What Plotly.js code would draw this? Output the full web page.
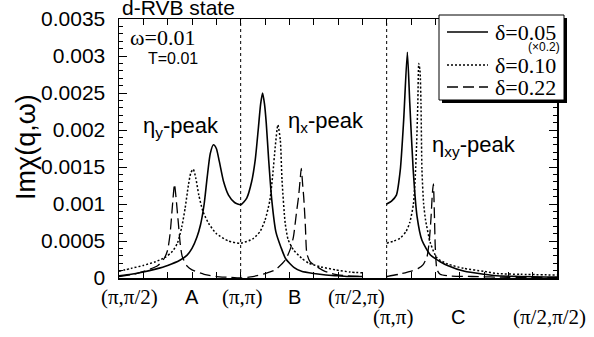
<!DOCTYPE html>
<html>
<head>
<meta charset="utf-8">
<script src="https://cdn.plot.ly/plotly-3.0.1.min.js"></script>
<style>html,body{margin:0;padding:0;background:#fff;}#chart{width:594px;height:337px;}</style>
</head>
<body>
<div id="chart"></div>
<script>
// ---- data (path coordinate u: (π,π/2)=0, (π,π)=5, (π/2,π)=10 | (π,π)=11, (π/2,π/2)=18) ----
const seriesNames = ['δ=0.05', 'δ=0.10', 'δ=0.22'];
const seriesNote = '(×0.2)';

const solidX = [0,0.5,1.0,1.5,2.0,2.5,2.8,3.0,3.2,3.35,3.5,3.62,3.75,3.88,4.0,4.12,4.3,4.5,4.75,5.0,5.25,5.45,5.6,5.72,5.82,5.9,5.98,6.05,6.15,6.28,6.45,6.65,6.85,7.2,7.5,8.0,8.5,9.0,9.5,10,
  null,
  11.0,11.2,11.4,11.56,11.7,11.85,11.95,12.09,12.25,12.45,12.8,13.2,13.5,14.2,15.0,15.5,16.5,18];
const solidY = [0.00003,0.00005,0.00008,0.00012,0.00017,0.00024,0.00031,0.00040,0.00055,0.00072,0.00100,0.00135,0.00168,0.00180,0.00175,0.00158,0.00130,0.00112,0.00102,0.00099,0.00108,0.00130,0.00160,0.00200,0.00235,0.00250,0.00235,0.00210,0.00160,0.00105,0.00062,0.00042,0.00026,0.00014,0.00009,0.00006,0.00004,0.00003,0.00002,0.00002,
  null,
  0.00100,0.00104,0.00112,0.00146,0.00214,0.00305,0.00236,0.00146,0.00083,0.00051,0.00031,0.00022,0.00017,0.00009,0.00005,0.00003,0.00002,0.00001];

const dotX = [0,0.5,1.0,1.5,1.9,2.2,2.4,2.58,2.72,2.85,2.95,3.05,3.15,3.28,3.45,3.68,4.0,4.5,5.0,5.5,5.8,6.0,6.2,6.32,6.42,6.53,6.63,6.7,6.83,6.95,7.17,7.5,7.8,8.3,8.9,9.5,10,
  null,
  11.0,11.3,11.56,11.8,11.95,12.1,12.18,12.23,12.28,12.32,12.37,12.41,12.45,12.52,12.6,12.8,13.07,13.5,14.17,15.0,15.54,16.5,18];
const dotY = [0.00009,0.00013,0.00017,0.00022,0.00028,0.00036,0.00047,0.00069,0.00095,0.00125,0.00142,0.00147,0.00136,0.00112,0.00090,0.00074,0.00060,0.00050,0.00047,0.00053,0.00063,0.00078,0.00105,0.00140,0.00177,0.00207,0.00186,0.00132,0.00074,0.00052,0.00038,0.00027,0.00020,0.00015,0.00011,0.00008,0.00007,
  null,
  0.00047,0.00050,0.00054,0.00063,0.00075,0.00100,0.00140,0.00180,0.00236,0.00290,0.00280,0.00236,0.00146,0.00100,0.00078,0.00047,0.00027,0.00019,0.00013,0.00009,0.00006,0.00005,0.00004];

const dashX = [0,0.6,1.2,1.6,1.85,2.0,2.1,2.17,2.24,2.28,2.34,2.44,2.52,2.6,2.8,3.0,3.5,4.0,4.5,5.0,5.5,6.0,6.42,6.83,7.05,7.17,7.3,7.38,7.45,7.49,7.55,7.59,7.66,7.72,7.85,8.0,8.4,8.75,9.3,10,
  null,
  11.0,11.5,11.98,12.3,12.5,12.66,12.75,12.82,12.88,12.92,12.96,13.0,13.07,13.2,13.5,14.5,16,18];
const dashY = [0.00002,0.00005,0.00011,0.00017,0.00026,0.00038,0.00060,0.00087,0.00115,0.00127,0.00110,0.00074,0.00045,0.00029,0.00016,0.00011,0.00005,0.00002,0.00001,0.00000,0.00002,0.00006,0.00011,0.00024,0.00040,0.00056,0.00090,0.00110,0.00135,0.00148,0.00125,0.00110,0.00070,0.00033,0.00022,0.00018,0.00010,0.00006,0.00003,0.00002,
  null,
  0.00002,0.00005,0.00009,0.00013,0.00018,0.00029,0.00050,0.00080,0.00115,0.00127,0.00088,0.00040,0.00011,0.00005,0.00003,0.00002,0.00001,0.00001];

const dividers = [5, 11];
const row1Labels = ['(π,π/2)', 'A', '(π,π)', 'B', '(π/2,π)'];
const row1Pos = [0.45, 3.0, 5.05, 7.2, 9.75];
const row2Labels = ['(π,π)', 'C', '(π/2,π/2)'];
const row2Pos = [11.28, 13.95, 17.7];
const row1Serif = [true, false, true, false, true];
const row2Serif = [true, false, true];
const yTickVals = [0, 0.0005, 0.001, 0.0015, 0.002, 0.0025, 0.003, 0.0035];
const yTickText = ['0', '0.0005', '0.001', '0.0015', '0.002', '0.0025', '0.003', '0.0035'];

// ---- styles ----
const SANS = 'Liberation Sans, Arial, Helvetica, sans-serif';
const SERIF = 'Liberation Serif, Times New Roman, serif';
const LW = 1.6;

const traces = [
  {x: solidX, y: solidY, name: seriesNames[0], mode: 'lines', connectgaps: false,
   line: {color: '#000', width: LW, shape: 'spline', smoothing: 0.6}},
  {x: dotX, y: dotY, name: seriesNames[1], mode: 'lines', connectgaps: false,
   line: {color: '#000', width: 1.5, dash: '2px,2px', shape: 'spline', smoothing: 0.6}},
  {x: dashX, y: dashY, name: seriesNames[2], mode: 'lines', connectgaps: false,
   line: {color: '#000', width: 1.3, dash: '11px,5px', shape: 'spline', smoothing: 0.6}}
];

// pixel helpers for plot-relative placement (plot area 119..557 x 19..278)
const PL = 119, PR = 557, PT = 19, PB = 278;
const px = v => (v - PL) / (PR - PL);
const py = v => (PB - v) / (PB - PT);

const shapes = [];
dividers.forEach(d => shapes.push({type: 'line', xref: 'x', yref: 'paper', x0: d, x1: d, y0: 0, y1: 1,
  line: {color: '#000', width: 1, dash: 'dot'}, layer: 'below'}));

// legend box with drop shadow
shapes.push({type: 'rect', xref: 'paper', yref: 'paper', x0: px(442), x1: px(567), y0: py(103), y1: py(18),
  fillcolor: '#000', line: {width: 0}, layer: 'above'});
shapes.push({type: 'rect', xref: 'paper', yref: 'paper', x0: px(439), x1: px(564), y0: py(100), y1: py(15),
  fillcolor: '#fff', line: {color: '#000', width: 1}, layer: 'above'});
const legRows = [32, 65, 87];
const legDash = ['solid', '2px,2px', '11px,5px'];
legRows.forEach((r, i) => shapes.push({type: 'line', xref: 'paper', yref: 'paper', x0: px(447), x1: px(488), y0: py(r), y1: py(r),
  line: {color: '#000', width: i === 0 ? LW : (i === 1 ? 1.5 : 1.3), dash: legDash[i]}, layer: 'above'}));

const annotations = [];
legRows.forEach((r, i) => annotations.push({xref: 'paper', yref: 'paper', x: px(558), y: py(r), xanchor: 'right', yanchor: 'middle',
  text: seriesNames[i], showarrow: false, font: {family: SERIF, size: 22, color: '#000'}}));
annotations.push({xref: 'paper', yref: 'paper', x: px(562), y: py(47), xanchor: 'right', yanchor: 'middle',
  text: seriesNote, showarrow: false, font: {family: SANS, size: 12, color: '#000'}});

annotations.push({xref: 'paper', yref: 'paper', x: px(128), y: py(38), xanchor: 'left', yanchor: 'middle',
  text: 'ω=0.01', showarrow: false, font: {family: SERIF, size: 22, color: '#000'}});
annotations.push({xref: 'paper', yref: 'paper', x: px(146), y: py(58), xanchor: 'left', yanchor: 'middle',
  text: 'T=0.01', showarrow: false, font: {family: SANS, size: 16, color: '#000'}});

annotations.push({xref: 'paper', yref: 'paper', x: px(141), y: py(127), xanchor: 'left', yanchor: 'middle',
  text: 'η<sub>y</sub>-peak', showarrow: false, font: {family: SANS, size: 22, color: '#000'}});
annotations.push({xref: 'paper', yref: 'paper', x: px(286), y: py(122), xanchor: 'left', yanchor: 'middle',
  text: 'η<sub>x</sub>-peak', showarrow: false, font: {family: SANS, size: 22, color: '#000'}});
annotations.push({xref: 'paper', yref: 'paper', x: px(430), y: py(146), xanchor: 'left', yanchor: 'middle',
  text: 'η<sub>xy</sub>-peak', showarrow: false, font: {family: SANS, size: 22, color: '#000'}});

// y axis title placed as rotated text
annotations.push({xref: 'paper', yref: 'paper', x: px(26), y: py(147), xanchor: 'center', yanchor: 'middle',
  text: 'Imχ(q,ω)', textangle: -90, showarrow: false, font: {family: SANS, size: 27, color: '#000'}});

row1Labels.forEach((t, i) => annotations.push({xref: 'x', yref: 'paper', x: row1Pos[i], y: py(297), xanchor: 'center', yanchor: 'middle',
  text: t, showarrow: false, font: {family: row1Serif[i] ? SERIF : SANS, size: row1Serif[i] ? 21 : 20, color: '#000'}}));
row2Labels.forEach((t, i) => annotations.push({xref: 'x', yref: 'paper', x: row2Pos[i], y: py(317), xanchor: 'center', yanchor: 'middle',
  text: t, showarrow: false, font: {family: row2Serif[i] ? SERIF : SANS, size: row2Serif[i] ? 21 : 20, color: '#000'}}));

const layout = {
  width: 594, height: 337,
  margin: {l: PL, r: 594 - PR, t: PT, b: 337 - PB, pad: 0},
  paper_bgcolor: '#fff', plot_bgcolor: '#fff',
  showlegend: false,
  title: {text: 'd-RVB state', font: {family: SANS, size: 21, color: '#000'},
          xref: 'paper', x: px(122), xanchor: 'left', yref: 'container', y: 1 - 8 / 337, yanchor: 'middle'},
  xaxis: {range: [0, 18], showgrid: false, zeroline: false, showline: true, linecolor: '#000', linewidth: 1.5,
          mirror: 'allticks', ticks: 'inside', ticklen: 6, tickcolor: '#000', tickwidth: 1, tick0: 0, dtick: 1,
          showticklabels: false, fixedrange: true},
  yaxis: {range: [0, 0.0035], showgrid: false, zeroline: false, showline: true, linecolor: '#000', linewidth: 1.5,
          mirror: 'allticks', ticks: 'inside', ticklen: 8, tickcolor: '#000', tickwidth: 1,
          minor: {dtick: 0.0001, ticks: 'inside', ticklen: 4, tickcolor: '#000', tickwidth: 1},
          tickmode: 'array', tickvals: yTickVals, ticktext: yTickText,
          tickfont: {family: SANS, size: 21, color: '#000'}, ticklabelstandoff: 8,
          automargin: false, fixedrange: true},
  shapes: shapes,
  annotations: annotations
};

Plotly.newPlot('chart', traces, layout, {displayModeBar: false, staticPlot: true});
</script>
</body>
</html>
